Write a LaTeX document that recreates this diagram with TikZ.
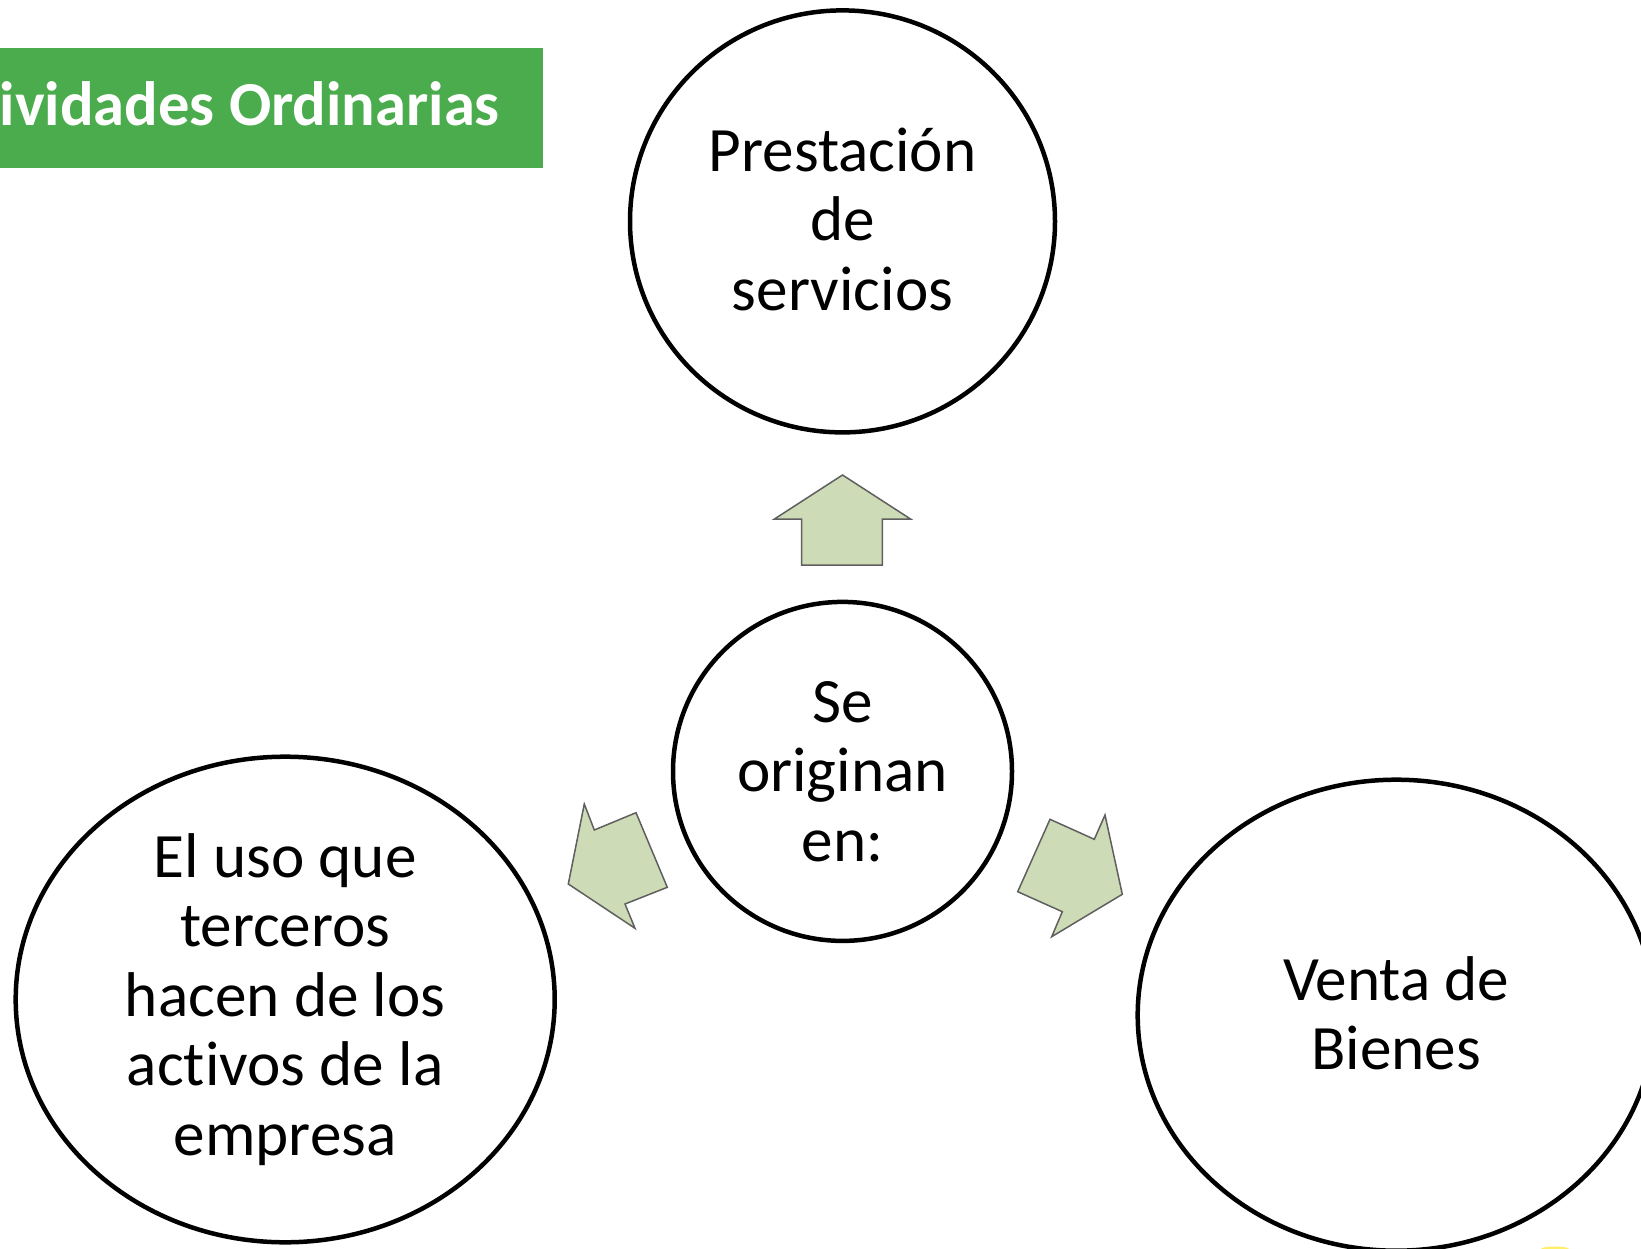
\documentclass[tikz,border=0pt]{standalone}
\usepackage{fontspec}
\setmainfont{Carlito}[Ligatures={NoCommon}]
\usetikzlibrary{shapes.geometric}
\definecolor{titlegreen}{RGB}{75,172,77}
\definecolor{arrowfill}{RGB}{205,219,182}
\definecolor{arrowline}{RGB}{95,95,95}
\tikzset{
  bubble/.style={draw=black, line width=4.5pt, ellipse, inner sep=0pt, fill=white},
  bubbletext/.style={align=center, inner sep=0pt, font=\fontsize{63.2}{69.6}\selectfont},
  blockarrow/.style={draw=arrowline, fill=arrowfill, line width=1.5pt, line join=miter},
}
\begin{document}
\begin{tikzpicture}[x=1pt,y=-1pt]
\useasboundingbox (0,0) rectangle (1641,1249);
% title
\begin{scope}
\clip (0,0) rectangle (1641,1249);
\node[fill=titlegreen, minimum width=543pt, minimum height=119.4pt, inner sep=0pt, anchor=north west] (titlebox) at (0,48) {};
\node[anchor=base east, inner sep=0pt, text=white, font=\bfseries\fontsize{62.6}{70}\selectfont] (title) at (500,125.6) {Actividades Ordinarias};
\end{scope}
% bubbles
\node[bubble, minimum width=425pt, minimum height=422pt] (top) at (842.5,221.4) {};
\node[bubbletext] (toptext) at ([yshift=2pt]top.center) {Prestación\\de\\servicios};
\node[bubble, minimum width=339pt, minimum height=339pt] (mid) at (842.5,771.4) {};
\node[bubbletext] (midtext) at (mid.center) {Se\\originan\\en:};
\node[bubble, minimum width=539pt, minimum height=485.6pt] (left) at (285.2,999.5) {};
\node[bubbletext] (lefttext) at (left.center) {El uso que\\terceros\\hacen de los\\activos de la\\empresa};
\begin{scope}
\clip (0,0) rectangle (1641,1249);
\node[bubble, minimum width=517pt, minimum height=471pt] (right) at (1396.2,1015.2) {};
\node[bubbletext] (righttext) at ([yshift=2pt]right.center) {Venta de\\Bienes};
\fill[yellow!85!orange, opacity=0.6] (1555,1249) ellipse (14pt and 2.5pt);
\end{scope}
% arrows
\draw[blockarrow] (842.5,475) -- (910.5,519) -- (882.3,519) -- (882.3,565) -- (801.7,565) -- (801.7,519) -- (774.5,519) -- cycle;
\draw[blockarrow] (568.3,884) -- (584.3,804) -- (594.3,830) -- (636,812.7) -- (667.3,887.3) -- (625,904) -- (635,928.3) -- cycle;
\draw[blockarrow] (1122.3,894.3) -- (1105,815) -- (1094.3,839.3) -- (1050,819.3) -- (1017.7,891.7) -- (1062.3,911.7) -- (1051.7,936.7) -- cycle;
\end{tikzpicture}
\end{document}
